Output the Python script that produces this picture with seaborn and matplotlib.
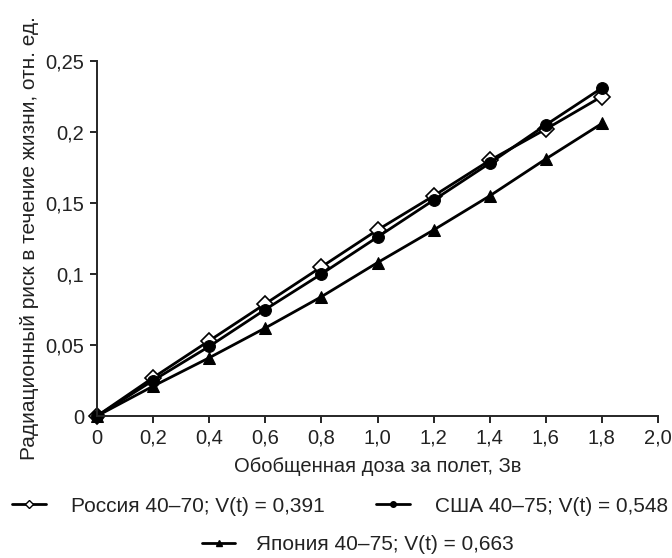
import pandas as pd
import numpy as np
import matplotlib
matplotlib.use("Agg")
import matplotlib.pyplot as plt
import seaborn as sns

# data
dose = [0, 0.2, 0.4, 0.6, 0.8, 1.0, 1.2, 1.4, 1.6, 1.8]
russia = [0, 0.027, 0.053, 0.079, 0.105, 0.131, 0.155, 0.180, 0.202, 0.225]
usa = [0, 0.025, 0.049, 0.075, 0.100, 0.126, 0.152, 0.178, 0.205, 0.231]
japan = [0, 0.021, 0.041, 0.062, 0.084, 0.108, 0.131, 0.155, 0.181, 0.206]
labels = ["Россия 40–70; V(t) = 0,391", "США 40–75; V(t) = 0,548", "Япония 40–75; V(t) = 0,663"]

xticks = [0, 0.2, 0.4, 0.6, 0.8, 1.0, 1.2, 1.4, 1.6, 1.8, 2.0]
xtick_labels = ["0", "0,2", "0,4", "0,6", "0,8", "1,0", "1,2", "1,4", "1,6", "1,8", "2,0"]
yticks = [0, 0.05, 0.1, 0.15, 0.2, 0.25]
ytick_labels = ["0", "0,05", "0,1", "0,15", "0,2", "0,25"]

sns.set_style("ticks")
plt.rcParams["font.family"] = ["Liberation Sans", "DejaVu Sans"]
txt = "#222222"
fs = 14.5

fig = plt.figure(figsize=(6.72, 5.58), dpi=100)
ax = fig.add_axes([97/672, 1-416/558, (658-97)/672, (416-61)/558])

df = pd.DataFrame({"x": dose, "russia": russia, "usa": usa, "japan": japan})

# russia first so the filled markers sit on top, like in the original
sns.lineplot(data=df, x="x", y="russia", ax=ax, color="black", lw=2,
             marker="D", markersize=8.5, markerfacecolor="white",
             markeredgecolor="black", markeredgewidth=1.2, clip_on=False)
sns.lineplot(data=df, x="x", y="usa", ax=ax, color="black", lw=2,
             marker="o", markersize=8.5, markerfacecolor="black", markeredgecolor="black",
             clip_on=False)
sns.lineplot(data=df, x="x", y="japan", ax=ax, color="black", lw=2,
             marker="^", markersize=8.5, markerfacecolor="black", markeredgecolor="black",
             clip_on=False)

ax.set_xlim(0, 2.0)
ax.set_ylim(0, 0.25)
ax.set_xticks(xticks)
ax.set_xticklabels(xtick_labels, fontsize=fs)
ax.set_yticks(yticks)
ax.set_yticklabels(ytick_labels, fontsize=fs)
ax.tick_params(direction="out", length=5, width=1.2, color="black", labelcolor=txt, pad=4)
for s in ["left", "bottom"]:
    ax.spines[s].set_linewidth(1.4)
sns.despine(ax=ax)

ax.set_xlabel("Обобщенная доза за полет, Зв", fontsize=fs, labelpad=7, color=txt)
ax.set_ylabel("Радиационный риск в течение жизни, отн. ед.", fontsize=15, labelpad=5, color=txt)

h = [plt.Line2D([], [], color="black", lw=2, marker="D", markersize=4, markerfacecolor="white", markeredgecolor="black"),
     plt.Line2D([], [], color="black", lw=2, marker="o", markersize=4, markerfacecolor="black"),
     plt.Line2D([], [], color="black", lw=2, marker="^", markersize=4, markerfacecolor="black")]

leg1 = fig.legend(h[:2], labels[:2], ncol=2, loc="center", bbox_to_anchor=(340/672, 1-506/558),
                  frameon=False, fontsize=15, handlelength=1.6, columnspacing=2.5, handletextpad=1.2,
                  borderaxespad=0, borderpad=0)
for t in leg1.get_texts():
    t.set_color(txt)
leg2 = fig.legend(h[2:], labels[2:], loc="center", bbox_to_anchor=(358/672, 1-545/558),
                  frameon=False, fontsize=15, handlelength=1.6, handletextpad=1.0,
                  borderaxespad=0, borderpad=0)
for t in leg2.get_texts():
    t.set_color(txt)

fig.savefig("out.png", dpi=100)
